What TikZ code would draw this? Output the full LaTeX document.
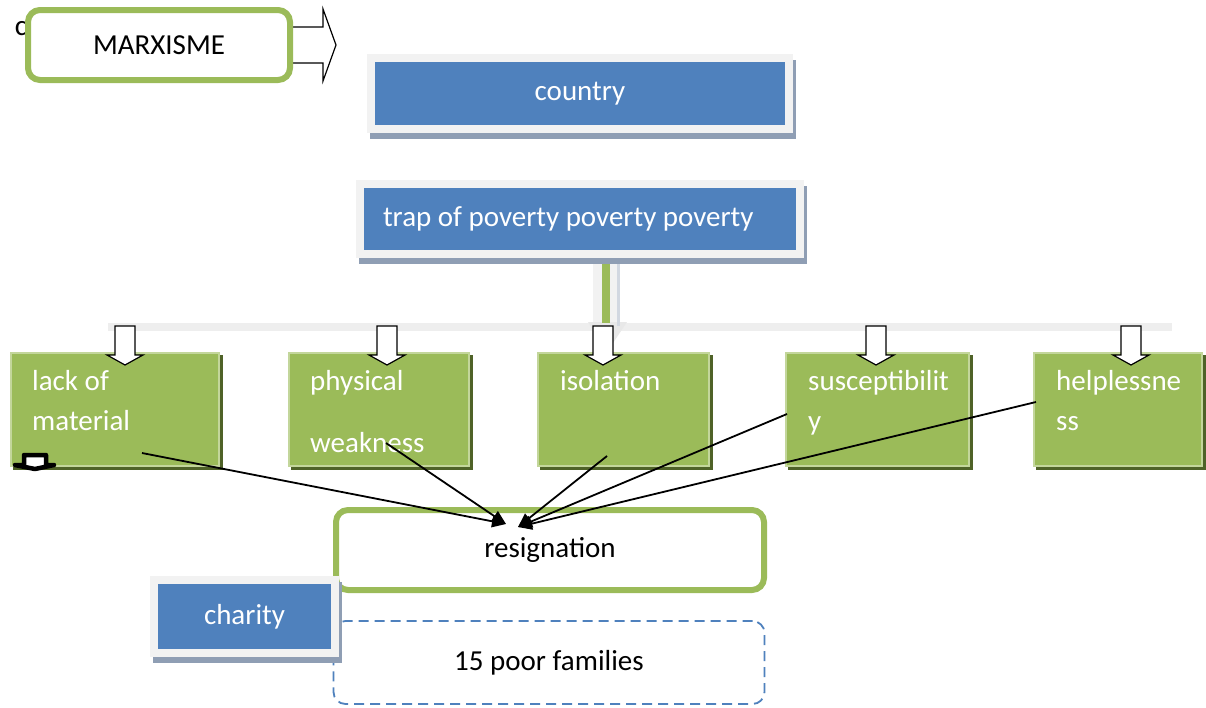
\documentclass[tikz,border=0pt]{standalone}
\usepackage{fontspec}
\setmainfont{Carlito}
\usetikzlibrary{arrows.meta,shadows,calc}

\definecolor{boxblue}{RGB}{79,129,189}
\definecolor{framegray}{RGB}{242,242,242}
\definecolor{shadegray}{RGB}{143,158,180}
\definecolor{leafgreen}{RGB}{155,187,89}
\definecolor{leaflight}{RGB}{195,214,155}
\definecolor{leafdark}{RGB}{79,98,40}
\definecolor{bargray}{RGB}{238,238,238}

\tikzset{downarrow/.pic={
  \draw[fill=white,line width=1.2pt] (-10,0) -- (10,0) -- (10,29) -- (18,29)
    -- (0,39) -- (-18,29) -- (-10,29) -- cycle;
}}

\begin{document}
\begin{tikzpicture}[x=1pt,y=-1pt,font=\fontsize{29}{40}\selectfont]
\tikzstyle{dep}= [-{Triangle[length=14pt,width=12pt]},line width=1.8pt]
\tikzstyle{bluebox}= [rectangle,fill=boxblue,draw=framegray,line width=8pt,text=white,inner sep=0pt,
  drop shadow={shadow xshift=3pt,shadow yshift=-6pt,fill=shadegray,draw=shadegray,opacity=1}]
\tikzstyle{leaf}= [rectangle,fill=leafgreen,draw=leaflight,line width=2pt,minimum height=113pt,
  drop shadow={shadow xshift=3pt,shadow yshift=-3pt,fill=leafdark,draw=leafdark,opacity=1}]
% base anchor sits on the last line
\tikzstyle{leaftext}= [anchor=base west,align=left,text=white,inner sep=0pt]
\tikzstyle{roundbox}= [rectangle,rounded corners=12pt,draw=leafgreen,line width=6pt,fill=white]
\tikzstyle{dashbox}= [rectangle,rounded corners=12pt,draw=boxblue,line width=1.8pt,
  dash pattern=on 10pt off 6pt,fill=white]

\useasboundingbox (0,0) rectangle (1206,707);

% bar and stem under the five leaves
\fill[bargray] (108,323) rectangle (1172,331);
\fill[black!9] (588,322) -- (627,322) -- (607,352) -- cycle;
\fill[framegray] (593,237) rectangle (617,322);
\fill[shadegray!40] (617,241) rectangle (620,326);
\fill[leafgreen] (602,245) rectangle (610,323);

\node[anchor=base] (hidden) at (21,35) {c};
\draw[fill=white,line width=1.2pt] (290,27) -- (323,27) -- (323,9) -- (336,45)
  -- (323,81) -- (323,63) -- (290,63) -- cycle;

\path
	(159,45) node[roundbox,minimum width=262pt,minimum height=70pt] (marx) {MARXISME}
	(580,93.5) node[bluebox,minimum width=418pt,minimum height=71pt] (country) {country}
	(580,219) node[bluebox,text width=394pt,inner xsep=23pt,align=flush left,minimum height=70pt] (trap) {trap of poverty poverty poverty}
	(115,409.5) node[leaf,minimum width=208pt] (lack) {}
	(379,409.5) node[leaf,minimum width=180pt] (phys) {}
	(623.5,409.5) node[leaf,minimum width=171pt] (iso) {}
	(877.5,409.5) node[leaf,minimum width=183pt] (susc) {}
	(1118,409.5) node[leaf,minimum width=168pt] (help) {}
;
\path
	(32,430) node[leaftext] (lack-t) {lack of\\material}
	(310,452) node[leaftext] (phys-t) {physical\\[22pt]weakness}
	(560,390) node[leaftext] (iso-t) {isolation}
	(808,430) node[leaftext] (susc-t) {susceptibilit\\y}
	(1056,430) node[leaftext] (help-t) {helplessne\\ss}
;
\foreach \x in {125,387,603,876,1131}
	\pic at (\x,326) {downarrow};
\draw[fill=white,line width=4.5pt,line join=round] (24,455) -- (46,455) -- (46,465) -- (54,465)
  -- (35,469) -- (15,465) -- (24,465) -- cycle;

\path
	(550,550) node[roundbox,minimum width=428pt,minimum height=80pt] (resign) {resignation}
	(549,662.5) node[dashbox,minimum width=431pt,minimum height=83pt] (families) {15 poor families}
	(244.5,616.5) node[bluebox,minimum width=181pt,minimum height=73pt] (charity) {charity}
;

\coordinate (ta) at ($(resign.north)+(-44,17)$);
\coordinate (tb) at ($(resign.north)+(-32,20)$);
\draw[dep] ($(lack.center)+(27,43.5)$) -- (ta);
\draw[dep] ($(phys.center)+(7,33.5)$) -- (ta);
\draw[dep] ($(iso.center)+(-16.5,46.5)$) -- (tb);
\draw[dep] ($(susc.center)+(-90.5,4.5)$) -- (tb);
\draw[dep] ($(help.center)+(-82,-7.5)$) -- (tb);
\end{tikzpicture}
\end{document}
